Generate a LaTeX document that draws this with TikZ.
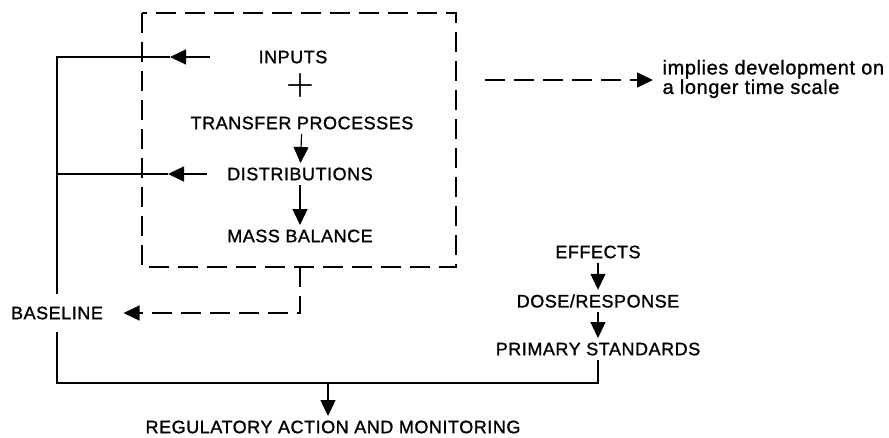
\documentclass[tikz,border=0pt]{standalone}
\usepackage{fontspec}
\newfontfamily\capsfont{Liberation Sans}[LetterSpace=3,FakeBold=1.2]
\newfontfamily\notefont{Liberation Sans}[LetterSpace=3,FakeBold=1]
\usetikzlibrary{arrows.meta}

\begin{document}
\begin{tikzpicture}[x=1pt,y=-1pt,line width=1.2pt]
              \tikzstyle{every node}+=[inner sep=0pt]
              \tikzstyle{tag}=[inner ysep=4pt,font=\capsfont\fontsize{18}{20}\selectfont]
              \tikzstyle{note}=[anchor=west,align=left,inner xsep=9pt,font=\notefont\fontsize{20}{19.5}\selectfont]
              \tikzstyle{arrowed}=[-{Triangle[length=16pt,width=15pt]}]
              \tikzstyle{dashline}=[dash pattern=on 20pt off 9pt]
              \useasboundingbox (0,0) rectangle (889,437);
              \node[font=\rmfamily\bfseries\fontsize{32}{32}\selectfont] (plus) at (300,86) {+};
              \node[tag] (inputs) at (293,57) {INPUTS};
              \node[tag] (transfer) at (302,123) {TRANSFER PROCESSES};
              \node[tag] (distrib) at (300,174) {DISTRIBUTIONS};
              \node[tag] (mass) at (300,236) {MASS BALANCE};
              \node[tag,inner xsep=20pt,inner ysep=12pt] (baseline) at (57,313) {BASELINE};
              \node[tag] (effects) at (598,252) {EFFECTS};
              \node[tag] (dose) at (598,301) {DOSE/RESPONSE};
              \node[tag] (primary) at (598,349) {PRIMARY STANDARDS};
              \node[tag] (regul) at (333,427) {REGULATORY ACTION AND MONITORING};
              \node[note] (implies) at (653,79) {implies development on\\a longer time scale};
              \draw [black,dashline] (142,13) rectangle (456,267);
              \coordinate (boxfoot) at (300,267);
              \coordinate (lefttop) at (57,57);
              \coordinate (leftmid) at (57,174);
              \coordinate (intip) at (170,57);
              \coordinate (inend) at (210,57);
              \coordinate (distip) at (168,174);
              \coordinate (disend) at (207,174);
              \coordinate (stdfoot) at (598,383);
              \coordinate (regtop) at (328,383);
              \coordinate (dashstart) at (485,80);
              % feedback to the left line
              \draw [black,arrowed] (inend) -- (intip);
              \draw [black] (intip) -- (lefttop) -- (baseline.north);
              \draw [black,arrowed] (disend) -- (distip);
              \draw [black] (distip) -- (leftmid);
              \draw [black] (baseline.south) |- (stdfoot) -- (primary.south);
              \draw [black,arrowed] (regtop) -- (regtop |- regul.north);
              % chains
              \draw [black,arrowed] (transfer) -- (distrib);
              \draw [black,arrowed] (distrib) -- (mass);
              \draw [black,arrowed] (effects) -- (dose);
              \draw [black,arrowed] (dose) -- (primary);
              \draw [black,dashline,arrowed] (boxfoot) |- (baseline.east);
              \draw [black,dashline,arrowed] (dashstart) -- (implies.west |- dashstart);
            \end{tikzpicture}
\end{document}
